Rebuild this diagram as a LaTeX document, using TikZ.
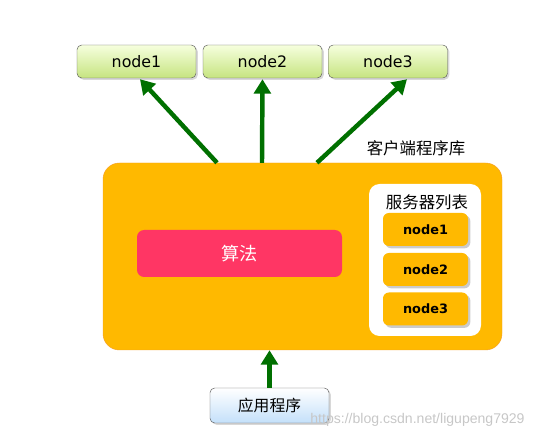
\documentclass[tikz,border=0pt]{standalone}
\usepackage{fontspec}
\usepackage{tikz}
\usepackage{xcolor}
\usetikzlibrary{arrows.meta,calc,positioning,shadows}
\setmainfont{DejaVu Sans}
\newfontfamily\cjkfont{Noto Sans CJK SC}
\newfontfamily\wmfont{Liberation Sans}
\definecolor{libraryorange}{RGB}{255,185,0}
\definecolor{libraryedge}{RGB}{246,160,40}
\definecolor{algored}{RGB}{255,54,100}
\definecolor{nodegreentop}{RGB}{246,255,222}
\definecolor{nodegreenbot}{RGB}{198,228,128}
\definecolor{appbluebot}{RGB}{196,224,250}
\definecolor{arrowgreen}{RGB}{0,112,0}

\begin{document}
\begin{tikzpicture}[
  font=\fontsize{13.5pt}{15pt}\selectfont,
  server/.style={draw=black!65, rounded corners=4pt, minimum width=3.57cm, minimum height=0.99cm,
    shading=axis, top color=nodegreentop, bottom color=nodegreenbot,
    drop shadow={shadow xshift=1.5pt, shadow yshift=-1.5pt, fill=black!30}},
  listed/.style={rounded corners=5pt, minimum width=2.55cm, minimum height=0.99cm, fill=libraryorange,
    font=\fontsize{11pt}{12pt}\selectfont\bfseries,
    drop shadow={shadow xshift=2pt, shadow yshift=-2pt, fill=black!40}},
  cjk/.style={font=\fontsize{14pt}{16pt}\selectfont\cjkfont},
  arr/.style={-{Triangle[length=4.3mm, width=5mm]}, line width=3.8pt, draw=arrowgreen}
]
\useasboundingbox (0,0) rectangle (16.47,-13.23);
% client library
\node[draw=libraryedge, fill=libraryorange, rounded corners=14pt, minimum width=11.97cm, minimum height=5.61cm]
  (client) at (9.075,-7.695) {};
\node[cjk] (clientlabel) at (12.48,-4.44) {客户端程序库};
\node[fill=algored, rounded corners=6pt, minimum width=6.15cm, minimum height=1.41cm, text=white,
  font=\fontsize{15.5pt}{18pt}\selectfont\cjkfont] (algo) at (7.185,-7.605) {算法};
\node[fill=white, rounded corners=9pt, minimum width=3.36cm, minimum height=4.56cm] (list) at (12.75,-7.8) {};
\node[cjk] (listtitle) at (12.81,-6.06) {服务器列表};
\node[listed] (l1) at (12.765,-6.885) {node1};
\node[listed] (l2) at (12.765,-8.085) {node2};
\node[listed] (l3) at (12.765,-9.27) {node3};
% servers
\node[server] (n1) at (4.095,-1.845) {node1};
\node[server] (n2) at (7.875,-1.845) {node2};
\node[server] (n3) at (11.64,-1.845) {node3};
% application
\node[draw=black!65, rounded corners=4pt, minimum width=3.57cm, minimum height=1.05cm,
  shading=axis, top color=white, bottom color=appbluebot,
  drop shadow={shadow xshift=1.5pt, shadow yshift=-1.5pt, fill=black!30},
  font=\fontsize{13.5pt}{16pt}\selectfont\cjkfont] (app) at (8.085,-12.165) {应用程序};
\node[text=black!22, font=\fontsize{12pt}{14pt}\selectfont\wmfont] (mark) at (12.525,-12.6) {https://blog.csdn.net/ligupeng7929};
\draw[arr] ([xshift=-2.565cm]client.north) -- ([xshift=0.105cm, yshift=-0.03cm]n1.south);
\draw[arr] ([xshift=-1.215cm]client.north) -- ([yshift=-0.03cm]n2.south);
\draw[arr] ([xshift=0.435cm]client.north) -- ([xshift=0.57cm, yshift=-0.03cm]n3.south);
\draw[arr] (app.north) -- (app.north |- client.south);
\end{tikzpicture}
\end{document}
